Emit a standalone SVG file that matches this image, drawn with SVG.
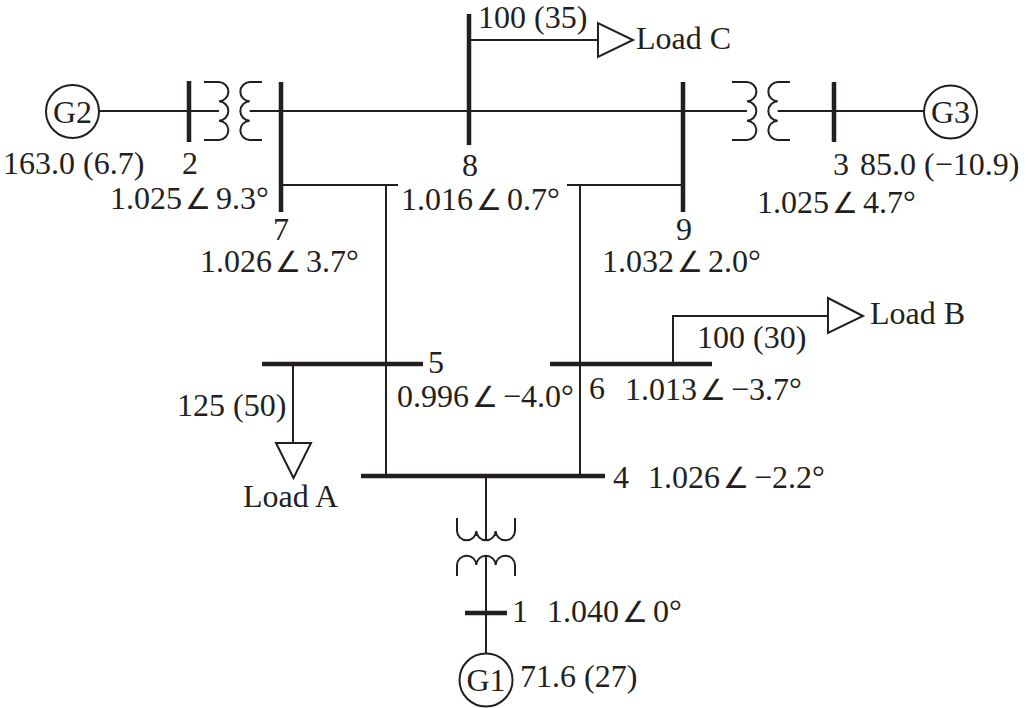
<svg xmlns="http://www.w3.org/2000/svg" width="1034" height="708" viewBox="0 0 1034 708">
<style>
text{font-family:"Liberation Serif","Times New Roman",serif;font-size:32px;fill:#231f20}
.ang{font-family:"DejaVu Sans",sans-serif;font-size:29px}
.g{text-anchor:middle;font-size:32px}
.bus{stroke:#231f20;stroke-width:4.5;fill:none}
.ln{stroke:#231f20;stroke-width:2;fill:none}
.sym{stroke:#231f20;stroke-width:2;fill:#fff}
</style>
<rect width="1034" height="708" fill="#fff"/>
<g id="connectors">
<path class="ln" d="M99,111H219"/>
<path class="ln" d="M249.7,111H747"/>
<path class="ln" d="M777.7,111H924"/>
<path class="ln" d="M469,40H598"/>
<path class="ln" d="M281,185H398M386,185V476"/>
<path class="ln" d="M567,185H683M580,185V476"/>
<path class="ln" d="M673,364V316H828"/>
<path class="ln" d="M293,364V443"/>
<path class="ln" d="M486,476V540.7"/>
<path class="ln" d="M486,555.3V653"/>
</g>
<g id="G2"><circle class="sym" cx="72.5" cy="111.5" r="26.5"/><text class="g" x="72.5" y="122.5">G2</text><text x="3" y="174">163.0 (6.7)</text></g>
<g id="G3"><circle class="sym" cx="950.5" cy="112" r="26.5"/><text class="g" x="950.5" y="123">G3</text><text x="860" y="175">85.0 (−10.9)</text></g>
<g id="G1"><circle class="sym" cx="486" cy="680" r="26.5"/><text class="g" x="486" y="691">G1</text><text x="520" y="687">71.6 (27)</text></g>
<g id="T2"><path class="ln" d="M204,82H219a9.67,9.67 0 0 1 0,19.33a9.67,9.67 0 0 1 0,19.33a9.67,9.67 0 0 1 0,19.33H204"/><path class="ln" d="M262,82H249.7a9.67,9.67 0 0 0 0,19.33a9.67,9.67 0 0 0 0,19.33a9.67,9.67 0 0 0 0,19.33H262"/></g>
<g id="T3"><path class="ln" d="M732,82H747a9.67,9.67 0 0 1 0,19.33a9.67,9.67 0 0 1 0,19.33a9.67,9.67 0 0 1 0,19.33H732"/><path class="ln" d="M790,82H777.7a9.67,9.67 0 0 0 0,19.33a9.67,9.67 0 0 0 0,19.33a9.67,9.67 0 0 0 0,19.33H790"/></g>
<g id="T1"><path class="ln" d="M457,518V531a9.67,9.67 0 0 0 19.33,0a9.67,9.67 0 0 0 19.33,0a9.67,9.67 0 0 0 19.33,0V518"/><path class="ln" d="M457,576V565a9.67,9.67 0 0 1 19.33,0a9.67,9.67 0 0 1 19.33,0a9.67,9.67 0 0 1 19.33,0V576"/></g>
<g id="bus2"><path class="bus" d="M189,81V142"/><text x="182" y="174">2</text></g>
<g id="bus7"><path class="bus" d="M281,82V212"/><text x="110" y="209">1.025<tspan class="ang" x="185">∠</tspan><tspan x="216">9.3°</tspan></text><text x="273" y="240">7</text><text x="200" y="272">1.026<tspan class="ang" x="275">∠</tspan><tspan x="306">3.7°</tspan></text></g>
<g id="bus8"><path class="bus" d="M469,14V145"/><text x="462" y="176">8</text><text x="401" y="210">1.016<tspan class="ang" x="476">∠</tspan><tspan x="507">0.7°</tspan></text></g>
<g id="bus9"><path class="bus" d="M683,82V212"/><text x="676" y="240">9</text><text x="602" y="272">1.032<tspan class="ang" x="677">∠</tspan><tspan x="708">2.0°</tspan></text></g>
<g id="bus3"><path class="bus" d="M834,82V142"/><text x="833" y="175">3</text><text x="757" y="213">1.025<tspan class="ang" x="832">∠</tspan><tspan x="863">4.7°</tspan></text></g>
<g id="bus5"><path class="bus" d="M262,364H423"/><text x="428" y="373">5</text><text x="397" y="407">0.996<tspan class="ang" x="472">∠</tspan><tspan x="503">−4.0°</tspan></text></g>
<g id="bus6"><path class="bus" d="M550,364H712"/><text x="589" y="399">6</text><text x="625" y="400">1.013<tspan class="ang" x="700">∠</tspan><tspan x="731">−3.7°</tspan></text></g>
<g id="bus4"><path class="bus" d="M361,476H605"/><text x="613" y="488">4</text><text x="648" y="488">1.026<tspan class="ang" x="723">∠</tspan><tspan x="754">−2.2°</tspan></text></g>
<g id="bus1"><path class="bus" d="M465,613H507"/><text x="512" y="622">1</text><text x="547" y="622">1.040<tspan class="ang" x="622">∠</tspan><tspan x="653">0°</tspan></text></g>
<g id="loadC"><polygon class="sym" points="598,23 598,57 633,40"/><text x="478" y="28">100 (35)</text><text x="636" y="49">Load C</text></g>
<g id="loadB"><polygon class="sym" points="828,298 828,333 863,316"/><text x="697" y="348">100 (30)</text><text x="870" y="324">Load B</text></g>
<g id="loadA"><polygon class="sym" points="276,443 311,443 293.5,478"/><text x="177" y="416">125 (50)</text><text x="243" y="507">Load A</text></g>
</svg>
